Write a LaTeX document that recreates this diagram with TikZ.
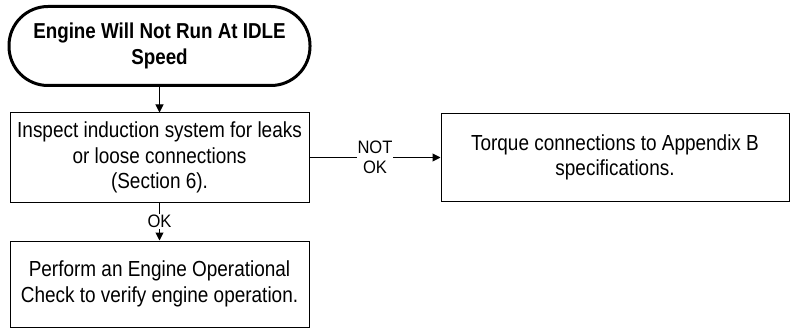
\documentclass[tikz,border=0pt]{standalone}
\usepackage{fontspec}
\setmainfont{Liberation Sans}
\newfontfamily\diagfont[FakeStretch=0.87]{Liberation Sans}
\newfontfamily\lblfont[FakeStretch=0.92]{Liberation Sans}
\usetikzlibrary{arrows.meta}
\tikzset{
  box/.style={draw=black, line width=1pt, rectangle, align=center, inner sep=0pt,
    font=\diagfont\fontsize{21.8}{25.5}\selectfont},
  term/.style={draw=black, line width=3pt, rectangle, rounded corners=39pt, align=center,
    inner sep=0pt, font=\diagfont\fontsize{21.6}{26}\selectfont\bfseries},
  conn/.style={line width=1pt, -{Triangle[length=8pt,width=8pt]}},
  lbl/.style={fill=white, inner sep=1pt, align=center, font=\lblfont\fontsize{18}{19.5}\selectfont}
}
\begin{document}
\begin{tikzpicture}[x=1pt,y=-1pt]
\useasboundingbox (0,0) rectangle (791,331);
\node[term, minimum width=301pt, minimum height=79pt] (start) at (159.5,46) {Engine Will Not Run At IDLE\\Speed};
\node[box, minimum width=299pt, minimum height=89pt] (inspect) at (159.5,157.5) {Inspect induction system for leaks\\or loose connections\\(Section 6).};
\node[box, minimum width=348pt, minimum height=88pt] (torque) at (615,157.5) {Torque connections to Appendix B\\specifications.};
\node[box, minimum width=299pt, minimum height=86pt] (perform) at (159.5,284) {Perform an Engine Operational\\Check to verify engine operation.};
\draw[conn] (start) -- (inspect);
\draw[conn] (inspect) -- node[lbl, pos=0.5] {NOT\\OK} (torque);
\draw[conn] (inspect) -- node[lbl, pos=0.5] {OK} (perform);
\end{tikzpicture}
\end{document}
